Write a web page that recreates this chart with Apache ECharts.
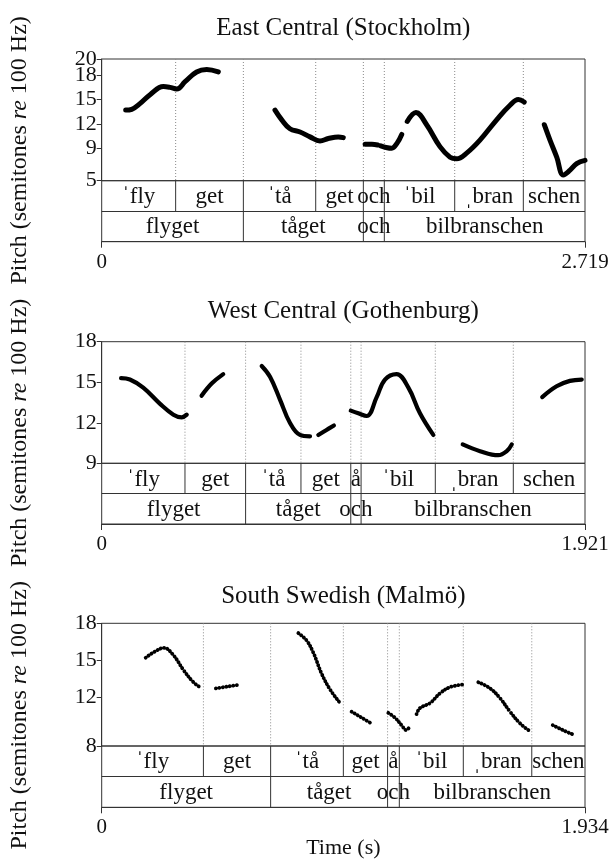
<!DOCTYPE html>
<html><head><meta charset="utf-8">
<script src="https://cdn.jsdelivr.net/npm/echarts@6/dist/echarts.min.js"></script>
<style>html,body{margin:0;padding:0;background:#fff}#c{width:612px;height:866px}</style>
</head><body><div id="c"></div>
<script>
// ---------- DATA ----------
// East Central (Stockholm)
const sthlmDur = 2.719;
const sthlmYTicks = [5, 9, 12, 15, 18, 20];
const sthlmTime = [0.135,0.169,0.215,0.272,0.347,0.384,0.422,0.469,0.534,0.591,0.656, null,
  0.975,1.013,1.059,1.116,1.172,1.228,1.275,1.331,1.359, null,
  1.482,1.52,1.553, null,
  1.57,1.60,1.632,1.661,1.688, null,
  1.719,1.768,1.828,1.903,1.960,1.997,2.053,2.128,2.222,2.297,2.344,2.377, null,
  2.490,2.522,2.560,2.597,2.635,2.672,2.719];
const sthlmPitch = [13.7,13.8,14.5,15.6,16.6,16.5,16.3,17.2,18.4,18.7,18.4, null,
  13.7,12.5,11.4,11.0,10.4,9.9,10.2,10.4,10.3, null,
  9.5,9.5,9.4, null,
  9.3,9.1,9.0,9.6,10.7, null,
  12.3,13.4,11.9,9.2,7.9,7.7,8.4,10.0,12.5,14.3,15.0,14.7, null,
  11.9,10.0,7.9,5.7,6.3,7.1,7.5];
const sthlmSyllBounds = [0.416, 0.797, 1.204, 1.472, 1.590, 1.986, 2.372];
const sthlmSyllLabels = ['ˈfly','get','ˈtå','get','och','ˈbil','ˌbran','schen'];
const sthlmWordBounds = [0.797, 1.472, 1.590];
const sthlmWordLabels = ['flyget','tåget','och','bilbranschen'];

// West Central (Gothenburg)
const gbgDur = 1.921;
const gbgYTicks = [9, 12, 15, 18];
const gbgTime = [0.077,0.112,0.165,0.232,0.285,0.318,0.338, null,
  0.397,0.437,0.483, null,
  0.636,0.669,0.709,0.748,0.788,0.828, null,
  0.861,0.892,0.923, null,
  0.990,1.020,1.053,1.093,1.126,1.172,1.219,1.265,1.318, null,
  1.435,1.504,1.576,1.610,1.630, null,
  1.751,1.808,1.861,1.908];
const gbgPitch = [15.3,15.2,14.6,13.4,12.6,12.4,12.6, null,
  14.0,14.9,15.6, null,
  16.2,15.4,13.7,12.0,11.1,11.0, null,
  11.1,11.45,11.8, null,
  12.9,12.7,12.5,13.9,15.2,15.6,14.6,12.7,11.1, null,
  10.4,9.9,9.6,9.9,10.4, null,
  13.9,14.7,15.1,15.2];
const gbgSyllBounds = [0.331, 0.572, 0.792, 0.990, 1.031, 1.326, 1.636];
const gbgSyllLabels = ['ˈfly','get','ˈtå','get','å','ˈbil','ˌbran','schen'];
const gbgWordBounds = [0.572, 0.990, 1.031];
const gbgWordLabels = ['flyget','tåget','och','bilbranschen'];

// South Swedish (Malmö)
const mmoDur = 1.934;
const mmoYTicks = [8, 12, 15, 18];
const mmoTime = [0.176,0.213,0.249,0.287,0.327,0.367,0.393, null,
  0.457,0.505,0.553, null,
  0.787,0.820,0.847,0.880,0.914,0.954, null,
  1.000,1.037,1.074, null,
  1.147,1.174,1.200,1.218,1.234, null,
  1.260,1.274,1.314,1.354,1.394,1.444, null,
  1.507,1.554,1.594,1.634,1.674,1.714, null,
  1.805,1.845,1.885];
const mmoPitch = [15.2,15.7,16.0,15.4,14.2,13.2,12.8, null,
  12.7,12.85,13.0, null,
  17.2,16.6,15.6,13.9,12.6,11.5, null,
  10.8,10.35,9.9, null,
  10.7,10.3,9.7,9.3,9.6, null,
  10.6,11.1,11.5,12.3,12.8,13.0, null,
  13.2,12.7,11.9,10.8,9.85,9.2, null,
  9.7,9.3,8.95];
const mmoSyllBounds = [0.407, 0.676, 0.967, 1.144, 1.191, 1.447, 1.721];
const mmoSyllLabels = ['ˈfly','get','ˈtå','get','å','ˈbil','ˌbran','schen'];
const mmoWordBounds = [0.676, 1.144, 1.191];
const mmoWordLabels = ['flyget','tåget','och','bilbranschen'];

const panelTitles = ['East Central (Stockholm)', 'West Central (Gothenburg)', 'South Swedish (Malmö)'];
const xAxisTitle = 'Time (s)';

// ---------- LAYOUT ----------
const FONT = '"Liberation Serif", "Times New Roman", serif';
const LEFT = 101.7, WIDTH = 483.3;
const panels = [
  {title: panelTitles[0], titleY: 28, top: 59, ph: 121.7, th: 61, dur: sthlmDur, ticks: sthlmYTicks,
   t: sthlmTime, f: sthlmPitch, sb: sthlmSyllBounds, sl: sthlmSyllLabels, wb: sthlmWordBounds, wl: sthlmWordLabels,
   lw: 5, dotted: false},
  {title: panelTitles[1], titleY: 311, top: 341.7, ph: 121.6, th: 60.7, dur: gbgDur, ticks: gbgYTicks,
   t: gbgTime, f: gbgPitch, sb: gbgSyllBounds, sl: gbgSyllLabels, wb: gbgWordBounds, wl: gbgWordLabels,
   lw: 4.2, dotted: false},
  {title: panelTitles[2], titleY: 596, top: 623.3, ph: 122.7, th: 61.3, dur: mmoDur, ticks: mmoYTicks,
   t: mmoTime, f: mmoPitch, sb: mmoSyllBounds, sl: mmoSyllLabels, wb: mmoWordBounds, wl: mmoWordLabels,
   lw: 3.8, dotted: true}
];

const grid = [], xAxis = [], yAxis = [], series = [], graphic = [];
const LINE = '#333', TXT = '#111';

panels.forEach((p, i) => {
  const gi = 2 * i, ti = 2 * i + 1;       // grid / xAxis indices
  const yp = 3 * i, yo = 3 * i + 1, yt = 3 * i + 2; // yAxis indices
  const yMin = p.ticks[0], yMax = p.ticks[p.ticks.length - 1];
  const evenTicks = p.ticks.filter((v, k) => k % 2 === 0);
  const oddTicks = p.ticks.filter((v, k) => k % 2 === 1);
  grid.push({left: LEFT, width: WIDTH, top: p.top, height: p.ph, show: true,
    borderColor: LINE, borderWidth: 1, containLabel: false, outerBoundsMode: 'none'});
  grid.push({left: LEFT, width: WIDTH, top: p.top + p.ph, height: p.th, show: true,
    borderColor: LINE, borderWidth: 1, containLabel: false, outerBoundsMode: 'none'});
  xAxis.push({gridIndex: gi, type: 'value', min: 0, max: p.dur, show: false});
  const lbl = {fontFamily: FONT, fontSize: 22, color: TXT, margin: 5, hideOverlap: false,
    showMinLabel: true, showMaxLabel: true};
  yAxis.push({gridIndex: gi, type: 'value', position: 'left', min: yMin, max: yMax,
    axisLine: {show: true, lineStyle: {color: LINE, width: 1}},
    axisTick: {show: true, length: 5, customValues: p.ticks, lineStyle: {color: LINE}},
    axisLabel: Object.assign({customValues: evenTicks}, lbl),
    splitLine: {show: false}});
  yAxis.push({gridIndex: gi, type: 'value', position: 'left', offset: 0, min: yMin, max: yMax,
    axisLine: {show: false}, axisTick: {show: false},
    axisLabel: Object.assign({customValues: oddTicks}, lbl),
    splitLine: {show: false}});
  xAxis.push({gridIndex: ti, type: 'value', min: 0, max: p.dur,
    axisLine: {show: true, onZero: false, lineStyle: {color: LINE, width: 1}},
    axisTick: {show: true, length: 6, customValues: [0, p.dur], lineStyle: {color: LINE}},
    axisLabel: {customValues: [0, p.dur], showMinLabel: true, showMaxLabel: true,
      fontFamily: FONT, fontSize: 21, color: TXT, margin: 10,
      formatter: v => (v === 0 ? '0' : String(p.dur))},
    splitLine: {show: false}});
  yAxis.push({gridIndex: ti, type: 'value', min: 0, max: 2, show: false});

  // pitch track
  const data = p.t.map((t, k) => (t === null ? [null, null] : [t, p.f[k]]));
  series.push({type: 'line', xAxisIndex: gi, yAxisIndex: yp, data, smooth: 0.4, showSymbol: false,
    connectNulls: false, silent: true, animation: false, z: 5,
    lineStyle: {color: '#000', width: p.lw, cap: 'round', join: 'round',
      type: p.dotted ? [0.1, 3.4] : 'solid'}});

  // dotted boundary lines in pitch area
  series.push({type: 'custom', xAxisIndex: gi, yAxisIndex: yp, silent: true, animation: false, z: 2,
    data: p.sb.map(t => [t, yMin]),
    renderItem: (params, api) => {
      const a = api.coord([api.value(0), yMax]);
      const b = api.coord([api.value(0), yMin]);
      return {type: 'line', shape: {x1: a[0], y1: a[1], x2: b[0], y2: b[1]},
        style: {stroke: '#8a8a8a', lineWidth: 1, lineDash: [1, 2]}};
    }});

  // tier boundaries
  const bdata = p.sb.map(t => [t, 1]).concat(p.wb.map(t => [t, 0]));
  series.push({type: 'custom', xAxisIndex: ti, yAxisIndex: yt, silent: true, animation: false, z: 3,
    data: bdata,
    renderItem: (params, api) => {
      const lo = api.value(1);
      const a = api.coord([api.value(0), lo + 1]);
      const b = api.coord([api.value(0), lo]);
      return {type: 'line', shape: {x1: a[0], y1: a[1], x2: b[0], y2: b[1]},
        style: {stroke: LINE, lineWidth: 1}};
    },
    markLine: {silent: true, symbol: ['none', 'none'], animation: false, label: {show: false},
      lineStyle: {color: LINE, type: 'solid', width: 1}, data: [{yAxis: 1}]}});

  // tier labels
  const labels = [];
  const addTier = (bounds, names, yc) => {
    const edges = [0].concat(bounds, [p.dur]);
    names.forEach((n, k) => labels.push({value: [(edges[k] + edges[k + 1]) / 2, yc], name: n}));
  };
  addTier(p.sb, p.sl, 1.5);
  addTier(p.wb, p.wl, 0.5);
  series.push({type: 'custom', xAxisIndex: ti, yAxisIndex: yt, silent: true, animation: false, z: 4,
    data: labels,
    renderItem: (params, api) => {
      const c = api.coord([api.value(0), api.value(1)]);
      return {type: 'text', x: c[0], y: c[1] + 1,
        style: {text: labels[params.dataIndex].name, align: 'center', verticalAlign: 'middle',
          fontFamily: FONT, fontSize: 23, fill: TXT}};
    }});

  // panel title
  graphic.push({type: 'text', x: LEFT + WIDTH / 2, y: p.titleY, silent: true,
    style: {text: p.title, align: 'center', verticalAlign: 'middle', fontFamily: FONT, fontSize: 25, fill: TXT}});
  // y-axis title
  graphic.push({type: 'text', x: 20, y: p.top + (p.ph + p.th) / 2, rotation: Math.PI / 2, silent: true,
    style: {text: '{a|Pitch (semitones }{b|re}{a| 100 Hz)}', align: 'center', verticalAlign: 'middle',
      fontFamily: FONT, fontSize: 24, fill: TXT,
      rich: {a: {fontFamily: FONT, fontSize: 24, fill: TXT}, b: {fontFamily: FONT, fontSize: 24, fontStyle: 'italic', fill: TXT}}}});
});

graphic.push({type: 'text', x: LEFT + WIDTH / 2, y: 848, silent: true,
  style: {text: xAxisTitle, align: 'center', verticalAlign: 'middle', fontFamily: FONT, fontSize: 22, fill: TXT}});

const chart = echarts.init(document.getElementById('c'), null, {renderer: 'canvas'});
chart.setOption({animation: false, backgroundColor: '#fff', grid, xAxis, yAxis, series, graphic});
</script></body></html>
